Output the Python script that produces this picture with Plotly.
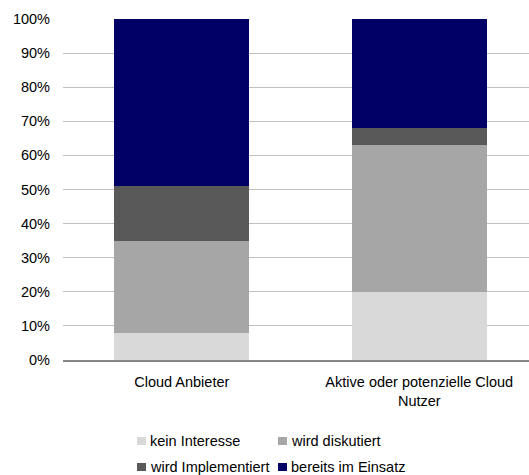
import plotly.graph_objects as go

categories = ["Cloud Anbieter", "Aktive oder potenzielle Cloud<br>Nutzer"]
series_names = ["kein Interesse", "wird diskutiert", "wird Implementiert", "bereits im Einsatz"]
kein_interesse = [0.08, 0.20]
wird_diskutiert = [0.27, 0.43]
wird_implementiert = [0.16, 0.05]
bereits_im_einsatz = [0.49, 0.32]
y_ticks = [0, 0.1, 0.2, 0.3, 0.4, 0.5, 0.6, 0.7, 0.8, 0.9, 1.0]

colors = ["#d9d9d9", "#a6a6a6", "#595959", "#000066"]
series_values = [kein_interesse, wird_diskutiert, wird_implementiert, bereits_im_einsatz]

W, H = 529, 475
L, R, T, B = 63, 0, 19, 115
FONT = "Liberation Sans, Arial, sans-serif"
FS = 14.5

fig = go.Figure()
for name, vals, col in zip(series_names, series_values, colors):
    fig.add_trace(go.Bar(
        x=categories, y=vals, name=name, marker_color=col,
        marker_line_width=0, width=0.57, showlegend=False,
    ))

def px_to_paper(px, py):
    return (px - L) / (W - L - R), (H - B - py) / (H - T - B)

# manual legend (swatch + text)
legend_pos = [(137, 441), (278, 441), (137, 467), (278, 467)]
for (lx, ly), name, col in zip(legend_pos, series_names, colors):
    x0, y0 = px_to_paper(lx, ly + 4)
    x1, y1 = px_to_paper(lx + 9, ly - 4)
    fig.add_shape(type="rect", xref="paper", yref="paper", x0=x0, y0=y0, x1=x1, y1=y1,
                  fillcolor=col, line_width=0)
    tx, ty = px_to_paper(lx + 11, ly)
    fig.add_annotation(xref="paper", yref="paper", x=tx, y=ty, text=name, showarrow=False,
                       xanchor="left", yanchor="middle", font=dict(family=FONT, size=FS, color="#000"))

fig.update_layout(
    width=W, height=H,
    margin=dict(l=L, r=R, t=T, b=B, pad=0),
    paper_bgcolor="white", plot_bgcolor="white",
    barmode="stack", bargap=0,
    font=dict(family=FONT, size=FS, color="#000"),
    xaxis=dict(range=[-0.5, 1.462], showgrid=False, showline=True, linecolor="#878787",
               linewidth=1.5, ticks="", ticklabelstandoff=8, tickfont=dict(size=FS)),
    yaxis=dict(range=[0, 1], tickvals=y_ticks, tickformat=".0%", showgrid=True,
               gridcolor="#c0c0c0", gridwidth=1, zeroline=False, showline=False,
               ticks="", ticklabelstandoff=12, tickfont=dict(size=FS)),
)

fig.write_html("out.html")
